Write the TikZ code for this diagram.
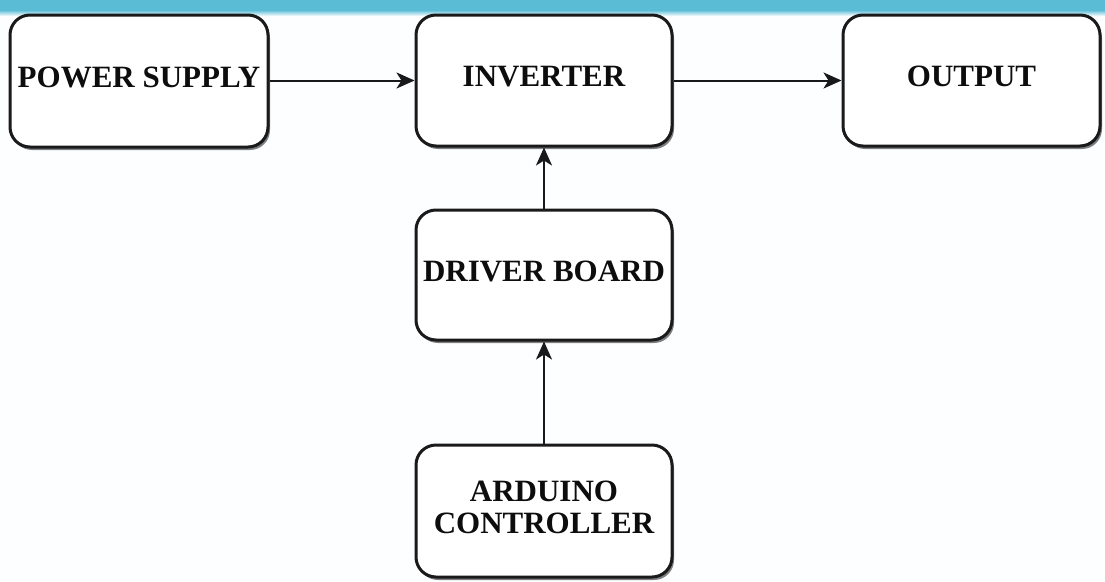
\documentclass[tikz,border=0pt]{standalone}
\usepackage{fontspec}
\setmainfont{Liberation Serif}
\usetikzlibrary{arrows.meta,shadows}
\definecolor{topstrip}{HTML}{5BBCD6}
\definecolor{pagebg}{HTML}{FCFEFF}
\definecolor{boxline}{HTML}{1A1A1A}
\tikzset{
  blockbox/.style={draw=boxline, line width=3pt, rounded corners=20pt, fill=white,
    drop shadow={shadow xshift=2pt, shadow yshift=-3pt, fill=black, opacity=0.5},
    font=\fontsize{31}{32}\selectfont\bfseries, align=center, text=black!95,
    inner sep=0pt, outer sep=1.5pt, text depth=8pt},
  flow/.style={draw=black!90, line width=2pt, -{Stealth[length=18pt,width=16pt,inset=5pt]}}
}
\begin{document}
\begin{tikzpicture}[x=1pt,y=-1pt]
  \useasboundingbox (0,0) rectangle (1105,581);
  \fill[pagebg] (0,0) rectangle (1105,581);
  \fill[topstrip] (0,0) rectangle (1105,10);
  \shade[top color=topstrip, bottom color=pagebg] (0,10) rectangle (1105,16);
  \node[blockbox, minimum width=258pt, minimum height=132pt] (ps) at (139,81) {POWER SUPPLY};
  \node[blockbox, minimum width=256pt, minimum height=131pt] (inv) at (544,80.5) {INVERTER};
  \node[blockbox, minimum width=257pt, minimum height=131pt] (out) at (971.5,80.5) {OUTPUT};
  \node[blockbox, minimum width=256pt, minimum height=130pt] (drv) at (544,275) {DRIVER BOARD};
  \node[blockbox, minimum width=256pt, minimum height=132pt] (ard) at (544,511) {ARDUINO\\CONTROLLER};
  \draw[flow] (ps.east |- inv.west) -- (inv.west);
  \draw[flow] (inv.east) -- (out.west);
  \draw[flow] (drv.north) -- (inv.south);
  \draw[flow] (ard.north) -- (drv.south);
\end{tikzpicture}
\end{document}
